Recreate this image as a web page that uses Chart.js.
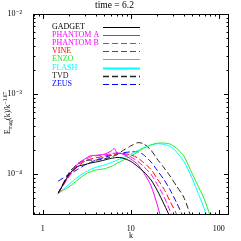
<!DOCTYPE html>
<html>
<head>
<meta charset="utf-8">
<script src="https://cdn.jsdelivr.net/npm/chart.js@4/dist/chart.umd.min.js"></script>
<style>
  html, body { margin: 0; padding: 0; background: #fff; }
  #wrap { width: 241px; height: 241px; }
</style>
</head>
<body>
<div id="wrap"><canvas id="mainChart" width="241" height="241"></canvas></div>
<script>
// 파수 k (공통 격자)
const kValues = [1.5, 2, 2.5, 3, 3.5, 4, 5, 6, 6.5, 7, 8, 10, 12, 14, 17, 20, 24, 28, 33, 40, 48, 57, 68, 80, 95];

// 각 코드별 E_mag(k)/k^-1.67 값 (단위 1e-4)
const E_UNIT = 1e-4;
const gadget   = [0.58, 1.0, 1.25, 1.32, 1.38, 1.42, 1.5, 1.58, 1.6, 1.62, 1.6, 1.45, 1.25, 1.08, 0.85, 0.63, 0.42, 0.29, 0.17, 0.08];
const phantomA = [0.58, 0.98, 1.35, 1.55, 1.7, 1.72, 1.78, 1.95, 2.1, 1.85, 1.8, 1.55, 1.33, 1.05, 0.72, 0.42, 0.2, 0.1];
const phantomB = [0.58, 0.95, 1.3, 1.5, 1.65, 1.7, 1.75, 1.8, 1.83, 1.85, 1.8, 1.65, 1.45, 1.25, 1.0, 0.75, 0.52, 0.35, 0.22, 0.11];
const vine     = [0.58, 0.95, 1.25, 1.45, 1.55, 1.6, 1.68, 1.75, 1.78, 1.8, 1.82, 1.75, 1.6, 1.4, 1.15, 0.88, 0.65, 0.46, 0.32, 0.17, 0.08];
const enzo     = [0.58, 0.70, 0.85, 0.99, 1.07, 1.13, 1.17, 1.25, 1.31, 1.37, 1.48, 1.68, 1.9, 2.1, 2.32, 2.44, 2.45, 2.38, 2.12, 1.7, 1.12, 0.75, 0.5, 0.3, 0.14];
const flash    = [0.58, 0.75, 0.92, 1.05, 1.15, 1.22, 1.3, 1.4, 1.45, 1.5, 1.6, 1.78, 1.98, 2.15, 2.32, 2.4, 2.36, 2.22, 1.92, 1.45, 0.98, 0.62, 0.38, 0.2, 0.09];
const tvd      = [0.58, 1.05, 1.35, 1.48, 1.5, 1.5, 1.55, 1.65, 1.7, 1.75, 1.95, 2.25, 2.48, 2.4, 2.0, 1.55, 1.2, 0.95, 0.72, 0.52, 0.3, 0.15, 0.07];
const zeus     = [0.82, 1.0, 1.15, 1.3, 1.4, 1.5, 1.62, 1.72, 1.76, 1.8, 1.85, 1.9, 1.9, 1.75, 1.42, 1.12, 0.85, 0.64, 0.45, 0.28, 0.14, 0.07];

// 범례 이름
const seriesNames = ['GADGET', 'PHANTOM A', 'PHANTOM B', 'VINE', 'ENZO', 'FLASH', 'TVD', 'ZEUS'];

// 축 눈금
const xTickValues = [1, 10, 100];
const xTickLabels = ['1', '10', '100'];
const yTickValues = [1e-4, 1e-3, 1e-2];
const yTickLabels = ['10\u207B\u2074', '10\u207B\u00B3', '10\u207B\u00B2'];

const FONT = "'Liberation Serif', 'DejaVu Serif', serif";

// 시리즈 스타일
const styles = [
  { color: '#000000', dash: [], width: 1, legendWidth: 1 },
  { color: '#ff00ff', dash: [], width: 1, legendWidth: 1 },
  { color: '#ff00ff', dash: [6, 3], width: 1, legendWidth: 1 },
  { color: '#ff0000', dash: [6, 3], width: 1, legendWidth: 1 },
  { color: '#22ee22', dash: [], width: 1, legendWidth: 1 },
  { color: '#00ffff', dash: [], width: 1, legendWidth: 2 },
  { color: '#222222', dash: [6, 3], width: 1, legendWidth: 1.5 },
  { color: '#0000ff', dash: [6, 3], width: 1, legendWidth: 1 }
];

const seriesValues = [gadget, phantomA, phantomB, vine, enzo, flash, tvd, zeus];

const datasets = seriesValues.map((arr, i) => ({
  label: seriesNames[i],
  data: arr.map((v, j) => ({ x: kValues[j], y: v * E_UNIT })),
  borderColor: styles[i].color,
  borderDash: styles[i].dash,
  borderWidth: styles[i].width,
  legendWidth: styles[i].legendWidth,
  pointRadius: 0,
  tension: 0.25,
  fill: false
}));

// 프레임, 안쪽 눈금, 범례, y축 제목 그리기
const framePlugin = {
  id: 'framePlugin',
  afterDraw(chart) {
    const ctx = chart.ctx;
    const a = chart.chartArea;
    const xs = chart.scales.x;
    const ys = chart.scales.y;
    ctx.save();
    ctx.strokeStyle = '#000';
    ctx.lineWidth = 1;
    ctx.setLineDash([]);
    ctx.strokeRect(Math.round(a.left) + 0.5, Math.round(a.top) + 0.5,
      Math.round(a.right - a.left) - 1, Math.round(a.bottom - a.top) - 1);

    const line = (x1, y1, x2, y2) => {
      ctx.beginPath(); ctx.moveTo(x1, y1); ctx.lineTo(x2, y2); ctx.stroke();
    };

    // x 눈금
    for (let d = -1; d <= 2; d++) {
      for (let m = 1; m <= 9; m++) {
        const v = m * Math.pow(10, d);
        if (v < xs.min || v > xs.max) continue;
        const px = Math.round(xs.getPixelForValue(v)) + 0.5;
        const len = m === 1 ? 5 : 2.5;
        line(px, a.bottom, px, a.bottom - len);
        line(px, a.top, px, a.top + len);
      }
    }
    // y 눈금
    for (let d = -5; d <= -2; d++) {
      for (let m = 1; m <= 9; m++) {
        const v = m * Math.pow(10, d);
        if (v < ys.min || v > ys.max) continue;
        const py = Math.round(ys.getPixelForValue(v)) + 0.5;
        const len = m === 1 ? 5 : 2.5;
        line(a.left, py, a.left + len, py);
        line(a.right, py, a.right - len, py);
      }
    }

    // 범례
    ctx.font = '8px ' + FONT;
    ctx.textBaseline = 'middle';
    ctx.textAlign = 'left';
    chart.data.datasets.forEach((ds, i) => {
      const y = 26.5 + i * 8.2;
      ctx.fillStyle = ds.borderColor;
      ctx.fillText(ds.label, 52, y);
      ctx.strokeStyle = ds.borderColor;
      ctx.lineWidth = ds.legendWidth;
      ctx.setLineDash(ds.borderDash);
      line(103, Math.round(y) + 0.5, 140, Math.round(y) + 0.5);
    });
    ctx.setLineDash([]);

    // y축 제목 E_mag(k)/k^-1.67
    ctx.translate(10, 113);
    ctx.rotate(-Math.PI / 2);
    ctx.fillStyle = '#000';
    ctx.textBaseline = 'alphabetic';
    const parts = [
      { t: 'E', size: 8, dy: 0 },
      { t: 'mag', size: 5.5, dy: 2 },
      { t: '(k)/k', size: 8, dy: 0 },
      { t: '\u22121.67', size: 5.5, dy: -3.5 }
    ];
    let total = 0;
    parts.forEach(p => { ctx.font = p.size + 'px ' + FONT; p.w = ctx.measureText(p.t).width; total += p.w; });
    let x = -total / 2;
    parts.forEach(p => {
      ctx.font = p.size + 'px ' + FONT;
      ctx.fillText(p.t, x, p.dy);
      x += p.w;
    });
    ctx.restore();
  }
};

const chart = new Chart(document.getElementById('mainChart').getContext('2d'), {
  type: 'line',
  data: { datasets: datasets },
  options: {
    responsive: false,
    animation: false,
    devicePixelRatio: 1,
    layout: { padding: { left: 0, right: 12, top: 0, bottom: 0 } },
    plugins: {
      legend: { display: false },
      tooltip: { enabled: false },
      title: {
        display: true,
        text: 'time = 6.2',
        color: '#000',
        font: { family: FONT, size: 9.5, weight: 'normal' },
        padding: { top: 0, bottom: 2.6 }
      }
    },
    scales: {
      x: {
        type: 'logarithmic',
        min: 0.776,
        max: 131,
        afterBuildTicks: (scale) => { scale.ticks = xTickValues.map(v => ({ value: v })); },
        afterFit: (scale) => { scale.height = 26; },
        grid: { display: false },
        border: { display: false },
        ticks: {
          color: '#000',
          font: { family: FONT, size: 8 },
          padding: 1,
          maxRotation: 0,
          autoSkip: false,
          callback: (v) => { const i = xTickValues.indexOf(v); return i >= 0 ? xTickLabels[i] : ''; }
        },
        title: { display: true, text: 'k', color: '#000', font: { family: FONT, size: 8 }, padding: 0 }
      },
      y: {
        type: 'logarithmic',
        min: 3.1e-5,
        max: 1e-2,
        afterBuildTicks: (scale) => { scale.ticks = yTickValues.map(v => ({ value: v })); },
        afterFit: (scale) => { scale.width = 33; },
        grid: { display: false },
        border: { display: false },
        ticks: {
          color: '#000',
          font: { family: FONT, size: 8 },
          padding: 3,
          autoSkip: false,
          callback: (v) => { const i = yTickValues.indexOf(v); return i >= 0 ? yTickLabels[i] : ''; }
        }
      }
    }
  },
  plugins: [framePlugin]
});
</script>
</body>
</html>
